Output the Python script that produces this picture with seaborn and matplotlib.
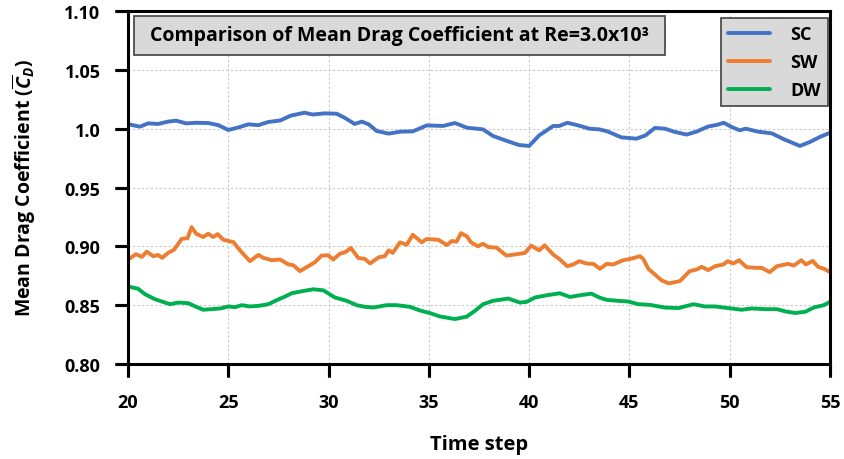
import matplotlib
matplotlib.use("Agg")
import matplotlib.pyplot as plt
from matplotlib.patches import Rectangle
from matplotlib.lines import Line2D
from matplotlib.transforms import blended_transform_factory
import numpy as np
import pandas as pd
import seaborn as sns

# Mean drag coefficient histories for the three configurations
sc_t = [20.02, 20.6, 21.0, 21.5, 22.0, 22.4, 22.9, 23.4, 24.0, 24.5, 25.0, 25.5, 26.0, 26.5,
        27.0, 27.6, 28.1, 28.8, 29.2, 29.8, 30.4, 30.8, 31.3, 31.66, 32.0, 32.4, 33.0, 33.6,
        34.2, 34.9, 35.7, 36.3, 36.9, 37.7, 38.2, 38.9, 39.5, 40.0, 40.5, 41.2, 41.5, 41.9,
        42.4, 43.0, 43.5, 43.9, 44.6, 45.35, 45.8, 46.27, 46.77, 47.27, 47.85, 48.35, 48.9,
        49.4, 49.7, 50.1, 50.5, 50.8, 51.4, 52.1, 52.7, 53.5, 54.0, 54.5, 55.0]
sc_cd = [1.0037, 1.0017, 1.0045, 1.0040, 1.0060, 1.0068, 1.0045, 1.0050, 1.0048, 1.0030,
         0.9989, 1.0010, 1.0037, 1.0030, 1.0057, 1.0070, 1.0110, 1.0136, 1.0120, 1.0130,
         1.0127, 1.0093, 1.0040, 1.0060, 1.0037, 0.9980, 0.9958, 0.9975, 0.9977, 1.0028,
         1.0023, 1.0048, 1.0008, 0.9994, 0.9938, 0.9895, 0.9861, 0.9853, 0.9943, 1.0023,
         1.0023, 1.0050, 1.0030, 1.0000, 0.9994, 0.9977, 0.9926, 0.9915, 0.9943, 1.0006,
         1.0000, 0.9972, 0.9950, 0.9975, 1.0017, 1.0034, 1.0050, 1.0014, 0.9986, 1.0000,
         0.9975, 0.9960, 0.9910, 0.9853, 0.9887, 0.9930, 0.9965]

sw_t = [20.05, 20.4, 20.7, 20.93, 21.26, 21.5, 21.7, 22.0, 22.3, 22.67, 22.97, 23.17, 23.4,
        23.75, 24.0, 24.25, 24.47, 24.75, 25.08, 25.25, 25.58, 26.08, 26.5, 26.75, 27.16,
        27.58, 28.0, 28.24, 28.57, 28.99, 29.32, 29.65, 29.98, 30.23, 30.57, 30.82, 31.11,
        31.48, 31.81, 32.07, 32.5, 32.8, 33.0, 33.2, 33.56, 33.9, 34.2, 34.64, 34.89, 35.47,
        35.89, 36.14, 36.38, 36.6, 36.9, 37.1, 37.45, 37.7, 37.96, 38.37, 38.87, 39.37,
        39.79, 40.1, 40.5, 40.77, 41.2, 41.5, 41.9, 42.2, 42.5, 42.86, 43.2, 43.53, 43.86,
        44.19, 44.69, 45.1, 45.52, 45.69, 45.94, 46.27, 46.6, 46.97, 47.52, 48.0, 48.35,
        48.6, 48.93, 49.27, 49.69, 49.9, 50.18, 50.46, 50.84, 51.26, 51.59, 52.0, 52.35,
        52.9, 53.2, 53.57, 53.8, 54.14, 54.4, 54.7, 55.0]
sw_cd = [0.8893, 0.8933, 0.8910, 0.8955, 0.8916, 0.8927, 0.8902, 0.8944, 0.8972, 0.9062,
         0.9070, 0.9163, 0.9107, 0.9079, 0.9107, 0.9079, 0.9104, 0.9056, 0.9042, 0.9037,
         0.8966, 0.8874, 0.8927, 0.8902, 0.8882, 0.8888, 0.8846, 0.8840, 0.8789, 0.8831,
         0.8865, 0.8921, 0.8924, 0.8888, 0.8938, 0.8949, 0.8986, 0.8902, 0.8893, 0.8854,
         0.8907, 0.8916, 0.8966, 0.8944, 0.9034, 0.9014, 0.9098, 0.9034, 0.9062, 0.9056,
         0.9011, 0.9045, 0.9039, 0.9112, 0.9084, 0.9034, 0.9000, 0.9022, 0.8994, 0.8989,
         0.8921, 0.8933, 0.8944, 0.9006, 0.8966, 0.9008, 0.8930, 0.8893, 0.8831, 0.8846,
         0.8874, 0.8854, 0.8851, 0.8809, 0.8851, 0.8846, 0.8882, 0.8896, 0.8916, 0.8893,
         0.8809, 0.8761, 0.8711, 0.8685, 0.8705, 0.8789, 0.8803, 0.8826, 0.8798, 0.8831,
         0.8846, 0.8874, 0.8854, 0.8882, 0.8823, 0.8817, 0.8817, 0.8781, 0.8831, 0.8851,
         0.8837, 0.8882, 0.8846, 0.8876, 0.8826, 0.8809, 0.8781]

dw_t = [20.05, 20.5, 20.85, 21.35, 22.1, 22.5, 23.0, 23.4, 23.75, 24.17, 24.6, 25.0, 25.33,
        25.67, 26.08, 26.5, 27.0, 27.41, 27.83, 28.16, 28.66, 29.24, 29.74, 30.32, 30.9,
        31.4, 31.81, 32.23, 32.9, 33.4, 34.05, 34.55, 35.05, 35.55, 36.3, 36.88, 37.3, 37.7,
        38.2, 38.96, 39.54, 39.87, 40.29, 40.87, 41.53, 42.03, 42.53, 43.1, 43.5, 43.86,
        44.44, 44.94, 45.44, 46.0, 46.77, 47.44, 48.19, 48.77, 49.27, 49.94, 50.6, 51.1,
        51.78, 52.35, 52.77, 53.27, 53.77, 54.19, 54.69, 55.0]
dw_cd = [0.8657, 0.8640, 0.8593, 0.8550, 0.8508, 0.8522, 0.8517, 0.8486, 0.8461, 0.8466,
         0.8472, 0.8489, 0.8483, 0.8500, 0.8489, 0.8494, 0.8508, 0.8542, 0.8573, 0.8601,
         0.8618, 0.8635, 0.8626, 0.8565, 0.8537, 0.8500, 0.8486, 0.8480, 0.8500, 0.8500,
         0.8486, 0.8455, 0.8433, 0.8404, 0.8382, 0.8402, 0.8452, 0.8508, 0.8537, 0.8556,
         0.8522, 0.8528, 0.8565, 0.8584, 0.8601, 0.8570, 0.8584, 0.8598, 0.8565, 0.8545,
         0.8537, 0.8531, 0.8508, 0.8503, 0.8480, 0.8475, 0.8508, 0.8489, 0.8489, 0.8475,
         0.8461, 0.8472, 0.8466, 0.8466, 0.8447, 0.8433, 0.8444, 0.8480, 0.8500, 0.8528]

series_names = ["SC", "SW", "DW"]
series_colors = ["#4472C4", "#ED7D31", "#00B050"]
x_ticks = [20, 25, 30, 35, 40, 45, 50, 55]
y_ticks = [0.80, 0.85, 0.90, 0.95, 1.00, 1.05, 1.10]
y_tick_labels = ["0.80", "0.85", "0.90", "0.95", "1.0", "1.05", "1.10"]
title_text = "Comparison of Mean Drag Coefficient at Re=3.0x10\u00b3"

df = pd.concat([
    pd.DataFrame({"Time step": sc_t, "Cd": sc_cd, "Case": "SC"}),
    pd.DataFrame({"Time step": sw_t, "Cd": sw_cd, "Case": "SW"}),
    pd.DataFrame({"Time step": dw_t, "Cd": dw_cd, "Case": "DW"}),
], ignore_index=True)

sns.set_theme(style="white")
plt.rcParams["font.family"] = ["Open Sans", "DejaVu Sans"]
plt.rcParams["font.weight"] = "bold"
plt.rcParams["text.color"] = "black"
plt.rcParams["axes.labelcolor"] = "black"
plt.rcParams["mathtext.fontset"] = "custom"
plt.rcParams["mathtext.rm"] = "Open Sans"
plt.rcParams["mathtext.it"] = "Open Sans:italic"
plt.rcParams["xtick.bottom"] = True
plt.rcParams["ytick.left"] = True

TICK_LEN = 9.3   # points
TICK_W = 2.2     # points

fig = plt.figure(figsize=(8.44, 4.60), dpi=100)
ax = fig.add_axes([128 / 844, 1 - 365 / 460, (830 - 128) / 844, (365 - 12) / 460])

palette = dict(zip(series_names, series_colors))
sns.lineplot(data=df, x="Time step", y="Cd", hue="Case", hue_order=series_names,
             palette=palette, estimator=None, sort=True, linewidth=2.8, ax=ax,
             legend=False)

ax.set_xlim(20, 55)
ax.set_ylim(0.80, 1.10)
ax.set_xticks(x_ticks)
ax.set_xticklabels([str(v) for v in x_ticks])
ax.set_yticks(y_ticks)
ax.set_yticklabels(y_tick_labels)

ax.grid(True, color="#c8c8c8", linestyle=(0, (2, 2)), linewidth=0.8)
for s in ax.spines.values():
    s.set_visible(True)
    s.set_color("black")
    s.set_linewidth(2.2)

ax.tick_params(axis="both", which="major", direction="out", length=TICK_LEN,
               width=TICK_W, color="black", labelsize=13, labelcolor="black")
ax.tick_params(axis="y", left=True, right=False, pad=10.5)
ax.tick_params(axis="x", bottom=True, top=False, pad=11.5)
for lab in ax.get_xticklabels() + ax.get_yticklabels():
    lab.set_fontweight("bold")

# Heavy outward tick marks, added at figure level so nothing in the axes clips them
pos = ax.get_position()
fig_w_pt = fig.get_figwidth() * 72
fig_h_pt = fig.get_figheight() * 72
x_tr = blended_transform_factory(ax.transData, fig.transFigure)
y_tr = blended_transform_factory(fig.transFigure, ax.transData)
for xv in x_ticks:
    fig.add_artist(Line2D([xv, xv], [pos.y0, pos.y0 - TICK_LEN / fig_h_pt],
                          transform=x_tr, color="black", linewidth=TICK_W,
                          solid_capstyle="butt", zorder=10))
for yv in y_ticks:
    fig.add_artist(Line2D([pos.x0, pos.x0 - TICK_LEN / fig_w_pt], [yv, yv],
                          transform=y_tr, color="black", linewidth=TICK_W,
                          solid_capstyle="butt", zorder=10))

ax.set_xlabel("Time step", fontsize=14.5, fontweight="bold", labelpad=17)
ax.set_ylabel(r"Mean Drag Coefficient ($\overline{C}_D$)", fontsize=14,
              fontweight="bold", labelpad=19)

# Title box inside the plotting area
x0, x1 = (134 - 128) / 702, (665 - 128) / 702
y0, y1 = (365 - 56) / 353, (365 - 17) / 353
ax.add_patch(Rectangle((x0, y0), x1 - x0, y1 - y0, transform=ax.transAxes,
                       facecolor="#d9d9d9", edgecolor="#404040", linewidth=1.2,
                       zorder=5))
ax.text((x0 + x1) / 2, (y0 + y1) / 2, title_text, transform=ax.transAxes,
        ha="center", va="center", fontsize=14, fontweight="bold", zorder=6)

handles = [Line2D([], [], color=c, linewidth=2.8) for c in series_colors]
leg = ax.legend(handles, series_names, loc="upper right",
                bbox_to_anchor=(1 - 2 / 702, 1 - 7 / 353),
                frameon=True, fancybox=False, facecolor="#d9d9d9", edgecolor="#404040",
                framealpha=1, fontsize=13, handlelength=2.35, handletextpad=1.1,
                labelspacing=0.55, borderpad=0.4, borderaxespad=0)
leg.get_frame().set_linewidth(1.2)
for t in leg.get_texts():
    t.set_fontweight("bold")
leg.set_zorder(9)

fig.savefig("out.png", dpi=100)
